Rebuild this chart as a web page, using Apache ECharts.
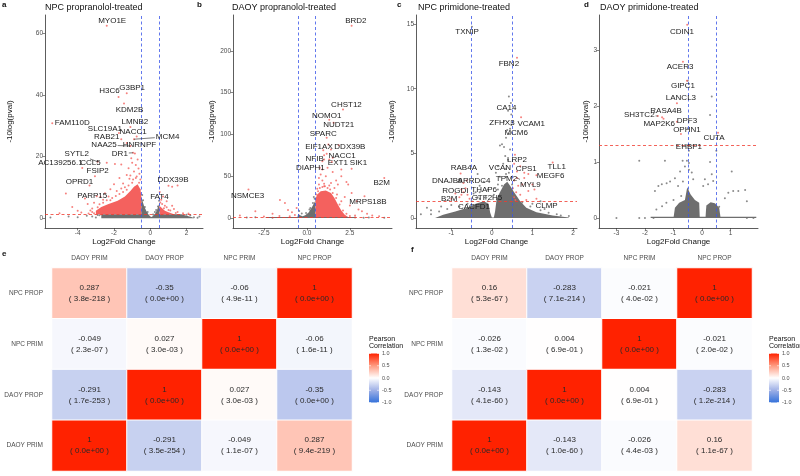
<!DOCTYPE html>
<html><head><meta charset="utf-8">
<script src="https://cdn.jsdelivr.net/npm/echarts@6/dist/echarts.min.js"></script>
<style>html,body{margin:0;padding:0;background:#fff}#c{width:800px;height:476px}</style>
</head><body><div id="c"></div>
<script>
// ---------------- DATA ----------------
const pThreshold = 1.30;           // -log10(0.05)
const fcThreshold = 0.5;

// Panel a: NPC propranolol-treated  [name, x, y, labelX, labelY]
const aLabels = [
  ['MYO1E',-2.4,62.4,-2.1,64.0],['G3BP1',-1.3,40.5,-1.0,42.4],['H3C6',-1.75,39.3,-2.25,41.4],
  ['KDM2B',-1.45,37.2,-1.15,35.2],['FAM110D',-5.4,30.8,-4.3,30.8],['LMNB2',-1.1,29.6,-0.85,31.3],
  ['SLC19A1',-1.73,27.6,-2.5,29.1],['NACC1',-0.75,26.5,-0.95,27.9],['RAB21',-1.6,25.6,-2.4,26.3],
  ['MCM4',-0.9,25.6,0.95,26.4],['HNRNPF',-1.3,24.4,-0.6,23.7],['NAA25',-1.1,23.4,-2.55,23.7],
  ['DR1',-0.95,21.2,-1.68,21.0],['SYTL2',-2.9,18.3,-4.05,20.8],['AC139256.1',-3.75,16.3,-4.95,17.8],
  ['CCL5',-2.4,18.0,-3.3,17.8],['FSIP2',-3.05,13.6,-2.9,15.2],['OPRD1',-3.35,10.6,-3.9,11.8],
  ['PARP15',-2.75,6.9,-3.2,7.1],['DDX39B',1.2,10.2,1.25,12.3],['FAT4',0.52,8.5,0.5,6.9]
];
const aSegs = ['SYTL2','MCM4','HNRNPF','NAA25','DR1'];
const aRed = [[-4.65,8.0],[-4.3,3.6],[-4.0,2.4],[-3.8,1.8],[-3.6,6.4],[-3.45,4.6],[-3.2,3.1],[-3.1,5.0],[-2.95,7.1],[-2.6,6.0],[-2.5,8.1],[-2.3,7.0],[-2.2,9.4],[-2.0,11.0],[-1.95,17.6],[-1.7,13.0],[-1.6,17.4],[-1.5,11.2],[-1.3,14.0],[-1.2,16.2],[-1.05,19.4],[-1.0,18.0],[-0.9,15.1],[-0.85,21.0],[-0.8,17.2],[-0.7,19.0],[-0.65,16.1],[-0.6,14.4],[-0.55,12.5],[-1.15,12.8],[-1.4,10.0],[-0.75,13.5],[0.6,6.0],[0.65,4.6],[0.7,7.0],[0.8,4.0],[0.9,3.5],[0.9,5.5],[1.0,10.5],[1.1,2.5],[1.2,4.0],[1.3,3.0],[1.5,10.6],[1.5,2.0],[1.8,1.6],[2.1,1.5],[-5.0,1.6],[-2.7,1.9],[-3.4,1.5],
  [-2.9,3.5],[-2.8,4.5],[-2.6,5.0],[-2.4,5.8],[-2.1,6.5],[-1.9,7.2],[-1.7,7.8],[-1.5,8.5],[-1.3,9.2],[-1.2,10.6],[-1.0,11.5],[-0.95,12.5],[-0.8,13.0],[-0.62,11.5],[-3.2,2.0],[-3.3,2.5],[-3.1,1.6],[-2.2,5.8],[-1.85,8.8],[-1.6,9.6],[-1.1,13.8],[-0.58,9.2],[0.55,5.1],[0.75,3.2],[1.0,2.6],[1.4,1.7]];
const aGray = [[-5.5,0.2],[-4.5,0.5],[-4.0,0.3],[-3.5,0.8],[-3.0,0.2],[-2.8,0.9],[2.4,0.3],[2.6,0.1],[2.7,0.5],[0.15,1.2],[0.25,2.0],[-0.45,7.5],[0.48,5.6],[2.2,0.9],[-3.2,0.5],[-0.4,5.8],[-0.3,3.6],[-0.15,2.0],[0.32,2.6],[0.42,3.8],[2.0,1.1],[-2.9,1.0]];
const aGrayCore = [[-2.7,0],[-2.7,1.3],[-0.5,1.3],[-0.5,7.0],[-0.45,6.0],[-0.35,4.0],[-0.22,2.3],[-0.1,1.2],[0.0,0.5],[0.08,0.4],[0.18,0.9],[0.28,1.6],[0.38,2.8],[0.45,4.0],[0.5,5.0],[0.5,1.3],[1.7,1.3],[2.0,0.8],[2.3,0.3],[2.4,0]];
const aRedCore = [[-3.0,1.3],[-3.0,2.4],[-2.7,3.6],[-2.3,4.6],[-1.8,5.6],[-1.4,7.0],[-1.1,8.8],[-0.9,10.2],[-0.7,11.0],[-0.55,9.4],[-0.5,7.6],[-0.5,1.3]];
const aRedCoreR = [[0.5,1.3],[0.5,4.0],[0.62,3.4],[0.8,2.4],[1.0,1.9],[1.3,1.3]];
const aXTicks = [-4,-2,0,2], aYTicks = [0,20,40,60];

// Panel b: DAOY propranolol-treated
const bLabels = [
  ['BRD2',2.6,230,2.85,236],['CHST12',2.1,130,2.3,136],['NOMO1',1.3,117.5,1.15,122],
  ['NUDT21',1.55,114,1.85,111],['SPARC',1.15,96,0.95,101],['EIF1AX',0.95,81,0.7,85],
  ['DDX39B',1.85,87,2.5,85],['NACC1',1.15,77,2.05,75],['NFIB',1.0,70,0.45,71],
  ['EXT1',1.45,67,1.8,66],['SIK1',2.6,59,3.0,66],['DIAPH1',0.9,58,0.2,60],
  ['B2M',4.5,48,4.35,42],['NSMCE3',-3.4,34,-3.45,27],['MRPS18B',3.35,26,3.55,19]
];
const bSegs = [];
const bRed = [[-3.9,3.0],[-2.0,5.0],[-1.57,21.5],[-1.28,18.0],[-1.1,9.6],[-0.87,7.0],[-0.7,3.6],[-1.6,2.5],[-2.5,1.8],[-3.0,8],[-0.6,12.0],[-1.0,2.0],[1.2,60],[1.5,55],[2.0,50],[1.7,45],[2.3,43],[2.4,40],[1.3,70],[1.0,75],[0.9,68],[1.5,72],[2.0,58],[1.8,40],[2.6,30],[2.9,20],[3.0,10],[3.2,8],[3.5,5],[2.8,3],[1.1,50],[0.9,45],[1.4,42],[0.7,40],[1.0,38],[1.6,36],[2.2,25],[2.5,15],[0.8,52],[0.75,60],[1.25,88],[1.4,82],[0.7,48],[3.8,3],[4.2,2],
  [0.55,28],[0.65,32],[0.75,36],[0.9,37],[1.05,38],[1.2,36],[1.35,34],[1.5,30],[1.7,24],[1.9,16],[2.1,9],[2.3,5],[2.5,2.5],[0.6,35],[1.0,41],[1.3,39],[0.58,22],[1.75,28],[2.0,20]];
const bGray = [[-3.5,0.5],[-3.0,0.8],[-2.0,0.4],[2.8,0.6],[3.3,0.3],[3.6,0.5],[-0.45,8.5],[-0.3,5.5],[0.2,12],[0.4,25],[0.35,18],[4.5,0.2],[-0.05,6],[0.15,10],[0.45,23]];
const bGrayCore = [[-2.4,0],[-2.4,1.3],[-0.55,1.3],[-0.5,5.0],[-0.4,3.2],[-0.25,2.0],[-0.1,3.2],[0.1,6.5],[0.3,13],[0.45,19],[0.5,21],[0.5,1.3],[2.8,1.3],[2.8,0]];
const bRedCore = [[0.5,1.3],[0.5,23],[0.6,28],[0.8,32],[1.1,33],[1.4,30],[1.6,24],[1.8,16],[2.0,9],[2.2,4],[2.4,1.3]];
const bXTicks = [-2.5,0,2.5], bYTicks = [0,50,100,150,200];

// Panel c: NPC primidone-treated
const cLabels = [
  ['TXNIP',-0.49,14.8,-0.61,14.4],['FBN2',0.62,12.4,0.42,11.9],['CA14',0.48,8.0,0.36,8.5],
  ['ZFHX3',0.49,7.4,0.25,7.4],['VCAM1',0.72,7.8,0.97,7.3],['MCM6',0.45,6.9,0.6,6.6],
  ['LRP2',0.57,4.9,0.62,4.5],['TLL1',1.5,4.3,1.6,4.0],['CPS1',0.8,3.5,0.85,3.8],
  ['VCAN',0.35,3.4,0.2,3.9],['RAB4A',-0.77,3.45,-0.69,3.9],['MEGF6',1.1,3.3,1.45,3.25],
  ['DNAJB9',-0.7,2.7,-1.1,2.9],['ARRDC4',-0.35,3.4,-0.44,2.9],['TPM2',0.55,2.9,0.36,3.0],
  ['MYL9',0.62,3.1,0.95,2.6],['ROGDI',-0.75,2.2,-0.9,2.1],['THAP6',-0.3,2.0,-0.19,2.2],
  ['B2M',-0.75,1.8,-1.05,1.5],['GTF2H5',-0.1,1.3,-0.12,1.55],['CACFD1',-0.3,1.0,-0.44,0.85],
  ['CLMP',1.2,1.3,1.35,0.93]
];
const cSegs = ['MYL9'];
const cRed = [[-0.6,1.8],[-0.7,2.0],[-0.8,1.6],[-0.9,1.9],[-1.0,1.5],[-0.62,2.9],[-0.65,2.3],[0.55,1.6],[0.6,2.0],[0.58,1.4],[0.7,1.8],[0.65,2.5],[0.75,2.6],[0.9,2.1],[1.05,2.2],[1.0,2.6],[0.8,3.1],[0.9,3.4],[0.62,3.6],[0.55,4.2],[0.7,4.0],[1.1,1.5],[0.85,1.4],[-0.55,1.5],[0.52,2.3]];
const cGray = [[0.42,9.4],[0.47,8.9],[0.4,8.3],[0.3,7.5],[0.48,7.2],[0.38,6.8],[0.42,6.5],[0.35,6.2],[0.25,5.7],[0.3,5.5],[0.2,5.6],[0.45,5.3],[0.33,4.8],[0.4,4.5],[0.28,4.2],[0.15,4.0],[0.35,3.8],[0.1,3.5],[0.42,3.5],[0.2,3.2],[-0.3,2.5],[-0.2,2.8],[-0.1,2.2],[-0.4,2.0],[-0.45,1.9],[-0.35,1.6],[-1.0,1.0],[-1.5,0.6],[-1.6,0.8],[-1.75,0.3],[1.6,0.3],[1.9,0.15],[0.15,2.6],[0.05,1.8],[-0.15,1.7],[1.3,0.7],[1.0,1.1],[-1.25,0.9],
  [-1.5,0.3],[-1.3,0.5],[-1.1,0.7],[-0.8,0.9],[-0.6,1.1],[-0.5,1.3],[-0.3,1.5],[-0.15,1.5],[0.15,2.2],[0.25,2.5],[0.35,3.2],[0.5,2.6],[0.6,1.0],[0.75,1.2],[0.95,0.9],[1.2,0.6],[1.4,0.4],[1.7,0.2]];
const cGrayCore = [[-1.4,0],[-1.2,0.25],[-0.9,0.5],[-0.6,0.8],[-0.4,1.1],[-0.2,1.3],[-0.08,1.1],[-0.04,0.4],[0.0,0.05],[0.05,0.05],[0.08,0.5],[0.12,1.5],[0.2,2.0],[0.3,2.6],[0.38,2.8],[0.45,2.5],[0.55,2.0],[0.7,1.3],[0.85,0.8],[1.1,0.45],[1.5,0.2],[1.9,0.05],[1.9,0]];
const cXTicks = [-1,0,1,2], cYTicks = [0,5,10,15];

// Panel d: DAOY primidone-treated
const dLabels = [
  ['CDIN1',-0.52,3.45,-0.7,3.33],['ACER3',-0.67,2.79,-0.77,2.7],['GIPC1',-0.53,2.45,-0.67,2.36],
  ['LANCL3',-0.88,2.05,-0.74,2.14],['SH3TC2',-1.55,1.82,-2.2,1.84],['RASA4B',-1.4,1.8,-1.26,1.92],
  ['MAP2K6',-1.35,1.77,-1.5,1.69],['DPF3',-0.88,1.72,-0.53,1.74],['OPHN1',-0.74,1.5,-0.53,1.58],
  ['CUTA',0.56,1.52,0.42,1.43],['EHBP1',-0.6,1.3,-0.46,1.27]
];
const dSegs = ['SH3TC2'];
const dRed = [];
const dGray = [[-2.2,1.02],[-1.3,1.02],[-0.68,1.02],[-0.53,1.02],[0.28,1.0],[0.34,2.17],[0.28,1.84],[-0.5,1.6],[-0.44,1.3],[-0.46,1.2],[-0.6,0.92],[-0.77,0.83],[-0.95,0.71],[-1.12,0.65],[-1.24,0.62],[-1.41,0.6],[-1.53,0.57],[-1.65,0.48],[-0.84,0.57],[-0.67,0.65],[-0.36,0.81],[-0.31,0.69],[-0.46,0.86],[-0.46,0.98],[0.1,0.69],[0.21,0.6],[0.34,0.78],[0.39,0.66],[0.04,0.57],[1.04,0.83],[1.27,0.48],[1.57,0.3],[1.51,0.5],[1.09,0.48],[0.92,0.45],[-0.73,0.39],[-1.0,0.32],[-1.25,0.27],[-1.4,0.21],[-1.6,0.15],[-2.0,0],[-3.0,0],[-2.2,0],[-1.7,0],[1.8,0],[1.57,0],[0.8,0.35],[0.6,0.2],[-0.5,2.45],[0.5,1.2]];
const dGrayCore = [[-1.0,0],[-0.95,0.18],[-0.8,0.27],[-0.6,0.32],[-0.52,0.55],[-0.4,0.42],[-0.25,0.32],[-0.1,0.27],[-0.08,0]];
const dGrayCore2 = [[0.12,0],[0.15,0.22],[0.3,0.28],[0.45,0.26],[0.6,0.18],[0.65,0]];
const dGrayBase = [[-1.8,0],[-1.8,0.02],[1.9,0.02],[1.9,0]];
const dXTicks = [-3,-2,-1,0,1], dYTicks = [0,1,2,3];

// Heatmaps (rows listed top to bottom)
const hmCols = ['DAOY PRIM','DAOY PROP','NPC PRIM','NPC PROP'];
const hmRowsTopDown = ['NPC PROP','NPC PRIM','DAOY PROP','DAOY PRIM'];
const eCorr = [[0.287,-0.35,-0.06,1],[-0.049,0.027,1,-0.06],[-0.291,1,0.027,-0.35],[1,-0.291,-0.049,0.287]];
const eP = [['3.8e-218','0.0e+00','4.9e-11','0.0e+00'],['2.3e-07','3.0e-03','0.0e+00','1.6e-11'],['1.7e-253','0.0e+00','3.0e-03','0.0e+00'],['0.0e+00','3.5e-254','1.1e-07','9.4e-219']];
const fCorr = [[0.16,-0.283,-0.021,1],[-0.026,0.004,1,-0.021],[-0.143,1,0.004,-0.283],[1,-0.143,-0.026,0.16]];
const fP = [['5.3e-67','7.1e-214','4.0e-02','0.0e+00'],['1.3e-02','6.9e-01','0.0e+00','2.0e-02'],['4.1e-60','0.0e+00','6.9e-01','1.2e-214'],['0.0e+00','1.0e-60','4.4e-03','1.1e-67']];
const legendTicks = [1.0,0.5,0.0,-0.5,-1.0];

// ---------------- STYLE / LAYOUT ----------------
const FONT = '"Liberation Sans", Arial, sans-serif';
const RED = '#F4615E', GRAY = '#6E6E6E';
const HM_COLORS = ['#3572DA','#9FB0E6','#FFFFFF','#FF9A80','#FF2200'];
const VTOP = 15, VH = 213;
const vol = [
  {left:45, width:158, xMin:-5.8, xMax:2.9, yMin:-3.2, yMax:65.9, yGap:31, xt:aXTicks, yt:aYTicks, xf:v=>String(v),
   title:'NPC propranolol-treated', tx:45, letter:'a', lx:2,
   red:aRed, gray:aGray, redCores:[aRedCore,aRedCoreR], grayCores:[aGrayCore], labels:aLabels, segs:aSegs},
  {left:233, width:159, xMin:-4.3, xMax:4.95, yMin:-12, yMax:243, yGap:17, xt:bXTicks, yt:bYTicks, xf:v=>v.toFixed(1),
   title:'DAOY propranolol-treated', tx:232, letter:'b', lx:197,
   red:bRed, gray:bGray, redCores:[bRedCore], grayCores:[bGrayCore], labels:bLabels, segs:bSegs},
  {left:416, width:161, xMin:-1.87, xMax:2.1, yMin:-0.77, yMax:15.7, yGap:20, xt:cXTicks, yt:cYTicks, xf:v=>String(v),
   title:'NPC primidone-treated', tx:418, letter:'c', lx:397,
   red:cRed, gray:cGray, redCores:[], grayCores:[cGrayCore], labels:cLabels, segs:cSegs},
  {left:599, width:159, xMin:-3.61, xMax:1.96, yMin:-0.18, yMax:3.625, yGap:6, xt:dXTicks, yt:dYTicks, xf:v=>String(v),
   title:'DAOY primidone-treated', tx:600, letter:'d', lx:584,
   red:dRed, gray:dGray, redCores:[], grayCores:[dGrayCore,dGrayCore2,dGrayBase], labels:dLabels, segs:dSegs}
];
const hm = [
  {left:52, corr:eCorr, p:eP, letter:'e', lx:2, ly:254, legX:369},
  {left:452, corr:fCorr, p:fP, letter:'f', lx:411, ly:250, legX:769}
];
const HM_TOP = 268, HM_W = 300, HM_H = 203;

const mctx = document.createElement('canvas').getContext('2d');
mctx.font = '8px "Liberation Sans"';
const textW = s => mctx.measureText(s).width;

const grids = [], xAxes = [], yAxes = [], series = [], graphics = [];
const axisCol = '#333', tickLblCol = '#4d4d4d';

vol.forEach((P, i) => {
  grids.push({left:P.left, top:VTOP, width:P.width, height:VH});
  xAxes.push({gridIndex:i, type:'value', min:P.xMin, max:P.xMax,
    axisLine:{show:true, onZero:false, lineStyle:{color:axisCol, width:0.8}},
    axisTick:{show:true, customValues:P.xt, length:2.5, lineStyle:{color:axisCol, width:0.6}},
    axisLabel:{customValues:P.xt, formatter:P.xf, fontSize:6.5, color:tickLblCol, margin:2, fontFamily:FONT},
    splitLine:{show:false},
    name:'Log2Fold Change', nameLocation:'middle', nameGap:8,
    nameTextStyle:{fontSize:8, color:'#111', fontFamily:FONT}});
  yAxes.push({gridIndex:i, type:'value', min:P.yMin, max:P.yMax,
    axisLine:{show:true, onZero:false, lineStyle:{color:axisCol, width:0.8}},
    axisTick:{show:true, customValues:P.yt, length:2.5, lineStyle:{color:axisCol, width:0.6}},
    axisLabel:{customValues:P.yt, fontSize:6.5, color:tickLblCol, margin:2, fontFamily:FONT},
    splitLine:{show:false},
    name:'-10log(pval)', nameLocation:'middle', nameGap:P.yGap, nameRotate:90,
    nameTextStyle:{fontSize:8, color:'#111', fontFamily:FONT}});

  const poly = (pts, color) => ({type:'custom', xAxisIndex:i, yAxisIndex:i, silent:true, animation:false, z:1,
    data:[pts[0]], renderItem:(params, api) => ({type:'polygon', shape:{points:pts.map(p => api.coord(p))}, style:{fill:color}})});
  P.grayCores.forEach(g => series.push(poly(g, GRAY)));
  P.redCores.forEach(g => series.push(poly(g, RED)));

  const lblPts = P.labels.map(l => [l[1], l[2]]);
  const sig = p => p[1] > pThreshold && Math.abs(p[0]) >= fcThreshold;
  series.push({type:'scatter', xAxisIndex:i, yAxisIndex:i, silent:true, animation:false, z:2, symbolSize:2,
    itemStyle:{color:GRAY}, data:P.gray.concat(lblPts.filter(p => !sig(p)))});
  const dash = {type:[3,2.5], width:0.8};
  series.push({type:'scatter', xAxisIndex:i, yAxisIndex:i, silent:true, animation:false, z:3, symbolSize:2,
    itemStyle:{color:RED}, data:P.red.concat(lblPts.filter(sig)),
    markLine:{silent:true, symbol:'none', animation:false, label:{show:false},
      data:[{xAxis:-fcThreshold, lineStyle:Object.assign({color:'#3a55e8'}, dash)},
            {xAxis:fcThreshold, lineStyle:Object.assign({color:'#3a55e8'}, dash)},
            {yAxis:pThreshold, lineStyle:Object.assign({color:'#f03a2e'}, dash)}]}});
  series.push({type:'custom', xAxisIndex:i, yAxisIndex:i, silent:true, animation:false, z:5,
    data:P.labels.map(l => [l[3], l[4]]),
    renderItem:(params, api) => {
      const l = P.labels[params.dataIndex];
      const c = api.coord([l[3], l[4]]), p = api.coord([l[1], l[2]]);
      const ch = [{type:'text', style:{text:l[0], x:c[0], y:c[1], textAlign:'center', textVerticalAlign:'middle',
        align:'center', verticalAlign:'middle', font:'8px ' + FONT, fill:'#1a1a1a'}}];
      if (P.segs.includes(l[0])) {
        const hw = textW(l[0]) / 2 + 1, hh = 5;
        const dx = p[0] - c[0], dy = p[1] - c[1];
        const t = Math.min(dx ? hw / Math.abs(dx) : Infinity, dy ? hh / Math.abs(dy) : Infinity);
        if (t < 1) ch.push({type:'line', shape:{x1:c[0] + dx * t, y1:c[1] + dy * t, x2:p[0], y2:p[1]},
          style:{stroke:'#222', lineWidth:0.6}});
      }
      return {type:'group', children:ch};
    }});

  graphics.push({type:'text', x:P.tx, y:8, style:{text:P.title, font:'9px ' + FONT, fill:'#111', verticalAlign:'middle'}});
  graphics.push({type:'text', x:P.lx, y:5, style:{text:P.letter, font:'bold 8px ' + FONT, fill:'#111', verticalAlign:'middle'}});
});

const rowsBottomUp = hmRowsTopDown.slice().reverse();
const hmSeriesIdx = [];
hm.forEach((H, k) => {
  const gi = 4 + k;
  grids.push({left:H.left, top:HM_TOP, width:HM_W, height:HM_H});
  xAxes.push({gridIndex:gi, type:'category', position:'top', data:hmCols,
    axisLine:{show:false}, axisTick:{show:false}, splitLine:{show:false},
    axisLabel:{fontSize:6.5, color:tickLblCol, margin:6, fontFamily:FONT}});
  yAxes.push({gridIndex:gi, type:'category', data:rowsBottomUp,
    axisLine:{show:false}, axisTick:{show:false}, splitLine:{show:false},
    axisLabel:{fontSize:6.5, color:tickLblCol, margin:9, fontFamily:FONT}});
  const data = [];
  H.corr.forEach((row, r) => row.forEach((v, c) => data.push([c, hmRowsTopDown.length - 1 - r, v, H.p[r][c]])));
  hmSeriesIdx.push(series.length);
  series.push({type:'heatmap', xAxisIndex:gi, yAxisIndex:gi, animation:false, silent:true, data,
    itemStyle:{borderColor:'#fff', borderWidth:1},
    label:{show:true, fontSize:8, color:'#2a2a2a', lineHeight:11, fontFamily:FONT,
      formatter:p => String(p.data[2]) + '\n( ' + p.data[3] + ' )'}});
  graphics.push({type:'text', x:H.lx, y:H.ly, style:{text:H.letter, font:'bold 8px ' + FONT, fill:'#111', verticalAlign:'middle'}});
  // legend
  const barTop = 353.5, barH = 49, barW = 10;
  graphics.push({type:'text', x:H.legX, y:339, style:{text:'Pearson', font:'7px ' + FONT, fill:'#111', verticalAlign:'middle'}});
  graphics.push({type:'text', x:H.legX, y:346.5, style:{text:'Correlation', font:'7px ' + FONT, fill:'#111', verticalAlign:'middle'}});
  graphics.push({type:'rect', shape:{x:H.legX, y:barTop, width:barW, height:barH},
    style:{fill:new echarts.graphic.LinearGradient(0, 0, 0, 1, HM_COLORS.slice().reverse().map((c, j) => ({offset:j / (HM_COLORS.length - 1), color:c})))}});
  legendTicks.forEach(v => {
    const y = barTop + (1 - v) / 2 * barH;
    graphics.push({type:'line', shape:{x1:H.legX, y1:y, x2:H.legX + 2, y2:y}, style:{stroke:'#fff', lineWidth:0.6}});
    graphics.push({type:'line', shape:{x1:H.legX + barW - 2, y1:y, x2:H.legX + barW, y2:y}, style:{stroke:'#fff', lineWidth:0.6}});
    graphics.push({type:'text', x:H.legX + 13, y:y, style:{text:v.toFixed(1), font:'5.5px ' + FONT, fill:tickLblCol, verticalAlign:'middle'}});
  });
});

const chart = echarts.init(document.getElementById('c'), null, {renderer:'canvas'});
chart.setOption({
  backgroundColor:'#fff', animation:false,
  textStyle:{fontFamily:FONT},
  grid:grids, xAxis:xAxes, yAxis:yAxes, series,
  visualMap:hmSeriesIdx.map(si => ({type:'continuous', show:false, seriesIndex:si, dimension:2, min:-1, max:1,
    inRange:{color:HM_COLORS}})),
  graphic:{elements:graphics}
});
</script></body></html>
